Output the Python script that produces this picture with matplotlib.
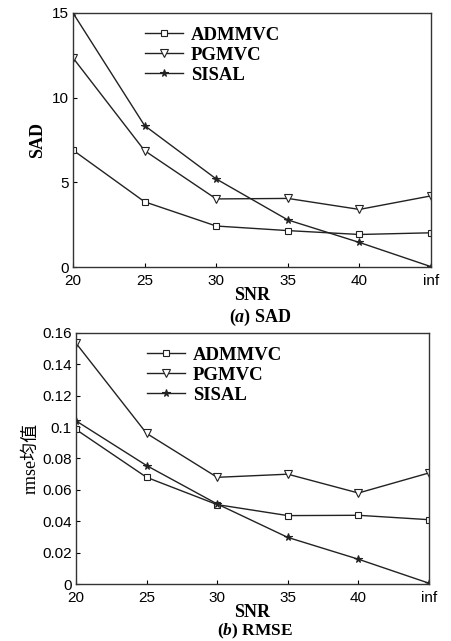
import numpy as np
from matplotlib import pyplot as plt

snr_labels = ["20", "25", "30", "35", "40", "inf"]
methods = ["ADMMVC", "PGMVC", "SISAL"]

sad_admmvc = [6.9, 3.85, 2.42, 2.15, 1.92, 2.02]
sad_pgmvc = [12.35, 6.87, 4.02, 4.05, 3.4, 4.2]
sad_sisal = [15.0, 8.35, 5.2, 2.78, 1.45, 0.02]

rmse_admmvc = [0.0985, 0.068, 0.0506, 0.0436, 0.0438, 0.041]
rmse_pgmvc = [0.1535, 0.096, 0.068, 0.070, 0.058, 0.0708]
rmse_sisal = [0.104, 0.0755, 0.051, 0.0297, 0.0158, 0.0005]

plt.rcParams["mathtext.fontset"] = "custom"
plt.rcParams["mathtext.it"] = "Liberation Serif:italic:bold"
plt.rcParams["mathtext.rm"] = "Liberation Serif:bold"

serif = ["Liberation Serif", "DejaVu Serif"]
sans = ["Liberation Sans", "DejaVu Sans"]
markers = ["s", "v", "*"]
msizes = [5, 6, 5.5]

fig = plt.figure(figsize=(4.52, 6.41), dpi=100)
ax1 = fig.add_axes([73 / 452, 1 - 267 / 641, 358 / 452, 254 / 641])
ax2 = fig.add_axes([76 / 452, 1 - 584 / 641, 353 / 452, 251 / 641])

x = np.arange(len(snr_labels))


def draw(ax, series, ylim, yticks, yticklabels, ylabel):
    for vals, m, ms, name in zip(series, markers, msizes, methods):
        ax.plot(x, vals, color="#222222", lw=1.0, marker=m, ms=ms,
                mfc="white" if m != "*" else "#222222", mec="#222222",
                mew=0.8, label=name)
    ax.set_xlim(0, 5)
    ax.set_ylim(*ylim)
    ax.set_xticks(x)
    ax.set_xticklabels(snr_labels, family=sans, fontsize=11)
    ax.set_yticks(yticks)
    ax.set_yticklabels(yticklabels, family=sans, fontsize=11)
    ax.tick_params(direction="in", length=3, width=0.8)
    ax.tick_params(axis="x", pad=5)
    ax.tick_params(axis="y", pad=3)
    for s in ax.spines.values():
        s.set_linewidth(1.0)
        s.set_color("#333333")
    ax.set_xlabel("SNR", family=serif, fontsize=13, fontweight="bold", labelpad=-1)
    ax.set_ylabel(ylabel, family=serif, fontsize=13, fontweight="bold", labelpad=4)
    ax.legend(loc="upper left", bbox_to_anchor=(0.17, 0.99), frameon=False,
              prop={"family": serif, "size": 13.5, "weight": "bold"},
              handlelength=2.0, handletextpad=0.45, labelspacing=0.15,
              borderaxespad=0.2)


draw(ax1, [sad_admmvc, sad_pgmvc, sad_sisal], (0, 15), [0, 5, 10, 15],
     ["0", "5", "10", "15"], "SAD")
draw(ax2, [rmse_admmvc, rmse_pgmvc, rmse_sisal], (0, 0.16),
     [0, 0.02, 0.04, 0.06, 0.08, 0.1, 0.12, 0.14, 0.16],
     ["0", "0.02", "0.04", "0.06", "0.08", "0.1", "0.12", "0.14", "0.16"],
     "rmse")
ax2.set_ylabel("rmse均值", family=["Liberation Serif", "Noto Sans CJK SC"],
               fontsize=13, fontweight="normal", labelpad=2)

fig.text(260 / 452, 1 - 317 / 641, r"($\mathit{a}$) SAD", ha="center",
         va="center", family=serif, fontsize=13, fontweight="bold")
fig.text(255 / 452, 1 - 631 / 641, r"($\mathit{b}$) RMSE", ha="center",
         va="center", family=serif, fontsize=12.5, fontweight="bold")

fig.savefig("out.png", dpi=100)
